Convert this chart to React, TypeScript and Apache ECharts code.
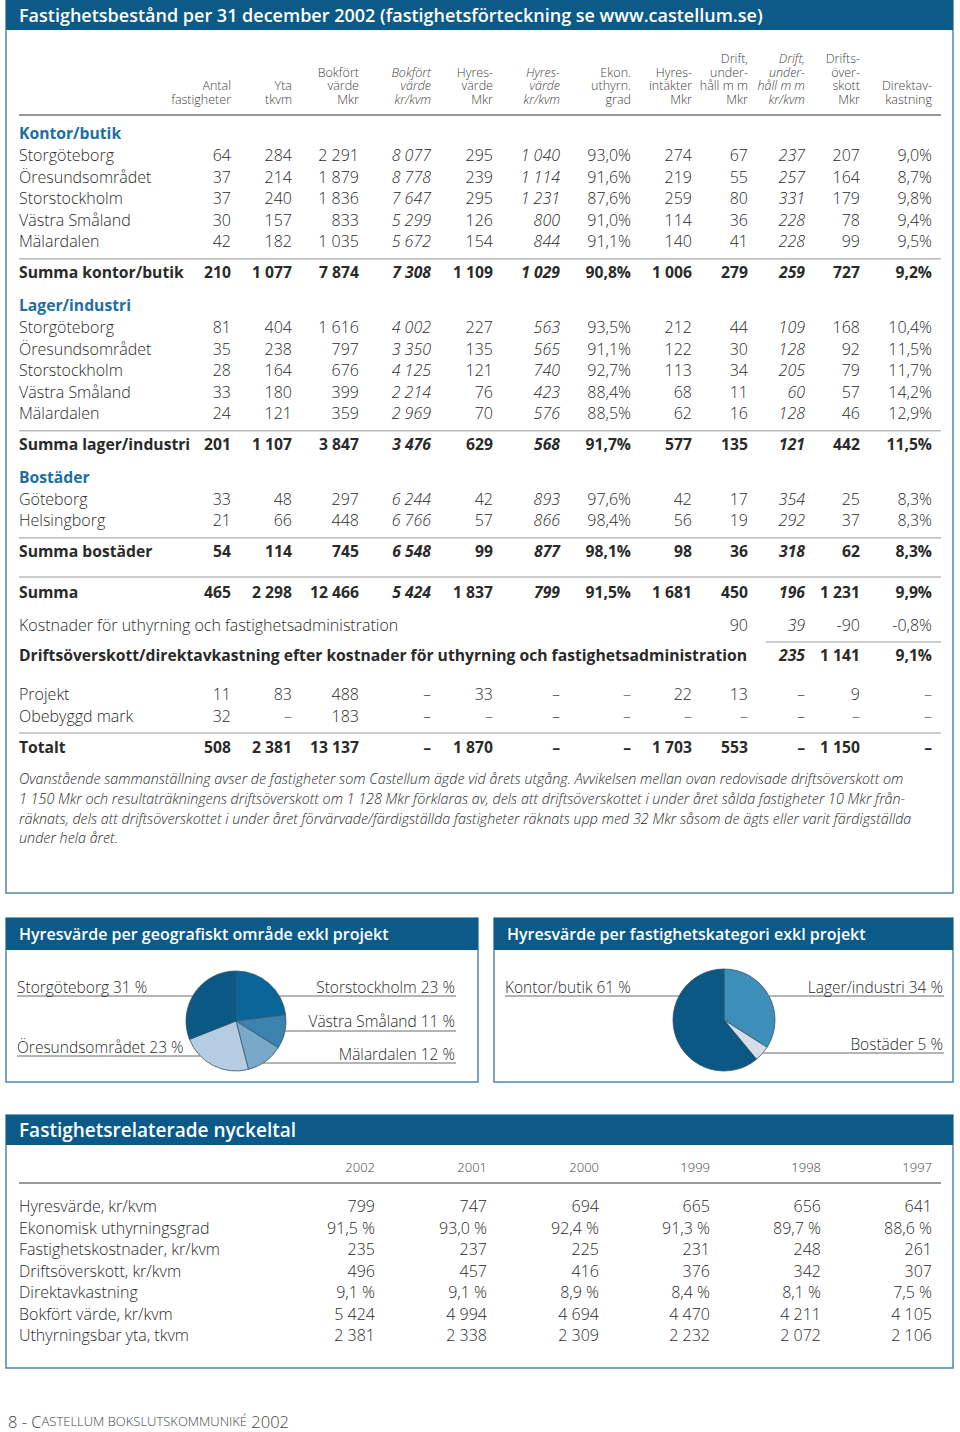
import React, { useEffect, useRef } from "react";
import * as echarts from "echarts";

const FONT = "'Open Sans', 'Noto Sans', sans-serif";
const TEXT = "#2a2a2a";
const HEAD_TEXT = "#444444";
const BAR = "#0b5a88";
const SECTION = "#1d6fa3";
const BORDER = "#4d86b0";
const RULE = "#9a9a9a";

// ---------------- Data ----------------
const pageTitle = "Fastighetsbestånd per 31 december 2002 (fastighetsförteckning se www.castellum.se)";

const columnHeaders = [
  ["Antal", "fastigheter"],
  ["Yta", "tkvm"],
  ["Bokfört", "värde", "Mkr"],
  ["Bokfört", "värde", "kr/kvm"],
  ["Hyres-", "värde", "Mkr"],
  ["Hyres-", "värde", "kr/kvm"],
  ["Ekon.", "uthyrn.", "grad"],
  ["Hyres-", "intäkter", "Mkr"],
  ["Drift,", "under-", "håll m m", "Mkr"],
  ["Drift,", "under-", "håll m m", "kr/kvm"],
  ["Drifts-", "över-", "skott", "Mkr"],
  ["Direktav-", "kastning"],
];
const italicColumns = [3, 5, 9];
const percentColumns = [6, 11];

const kontorNames = ["Storgöteborg", "Öresundsområdet", "Storstockholm", "Västra Småland", "Mälardalen"];
const kontorValues = [
  [64, 284, 2291, 8077, 295, 1040, 93.0, 274, 67, 237, 207, 9.0],
  [37, 214, 1879, 8778, 239, 1114, 91.6, 219, 55, 257, 164, 8.7],
  [37, 240, 1836, 7647, 295, 1231, 87.6, 259, 80, 331, 179, 9.8],
  [30, 157, 833, 5299, 126, 800, 91.0, 114, 36, 228, 78, 9.4],
  [42, 182, 1035, 5672, 154, 844, 91.1, 140, 41, 228, 99, 9.5],
];
const kontorTotal = [210, 1077, 7874, 7308, 1109, 1029, 90.8, 1006, 279, 259, 727, 9.2];

const lagerNames = ["Storgöteborg", "Öresundsområdet", "Storstockholm", "Västra Småland", "Mälardalen"];
const lagerValues = [
  [81, 404, 1616, 4002, 227, 563, 93.5, 212, 44, 109, 168, 10.4],
  [35, 238, 797, 3350, 135, 565, 91.1, 122, 30, 128, 92, 11.5],
  [28, 164, 676, 4125, 121, 740, 92.7, 113, 34, 205, 79, 11.7],
  [33, 180, 399, 2214, 76, 423, 88.4, 68, 11, 60, 57, 14.2],
  [24, 121, 359, 2969, 70, 576, 88.5, 62, 16, 128, 46, 12.9],
];
const lagerTotal = [201, 1107, 3847, 3476, 629, 568, 91.7, 577, 135, 121, 442, 11.5];

const bostadNames = ["Göteborg", "Helsingborg"];
const bostadValues = [
  [33, 48, 297, 6244, 42, 893, 97.6, 42, 17, 354, 25, 8.3],
  [21, 66, 448, 6766, 57, 866, 98.4, 56, 19, 292, 37, 8.3],
];
const bostadTotal = [54, 114, 745, 6548, 99, 877, 98.1, 98, 36, 318, 62, 8.3];

const summaValues = [465, 2298, 12466, 5424, 1837, 799, 91.5, 1681, 450, 196, 1231, 9.9];
const kostnadValues = [null, null, null, null, null, null, null, null, 90, 39, -90, -0.8];
const driftValues = [null, null, null, null, null, null, null, null, null, 235, 1141, 9.1];
const projektValues = [11, 83, 488, null, 33, null, null, 22, 13, null, 9, null];
const markValues = [32, null, 183, null, null, null, null, null, null, null, null, null];
const totaltValues = [508, 2381, 13137, null, 1870, null, null, 1703, 553, null, 1150, null];

const noteLines = [
  "Ovanstående sammanställning avser de fastigheter som Castellum ägde vid årets utgång. Avvikelsen mellan ovan redovisade driftsöverskott om",
  "1 150 Mkr och resultaträkningens driftsöverskott om 1 128 Mkr förklaras av, dels att driftsöverskottet i under året sålda fastigheter 10 Mkr från-",
  "räknats, dels att driftsöverskottet i under året förvärvade/färdigställda fastigheter räknats upp med 32 Mkr såsom de ägts eller varit färdigställda",
  "under hela året.",
];

const geoTitle = "Hyresvärde per geografiskt område exkl projekt";
const geoNames = ["Storstockholm", "Västra Småland", "Mälardalen", "Öresundsområdet", "Storgöteborg"];
const geoShares = [23, 11, 12, 23, 31];
const geoColors = ["#0a6699", "#3b83ae", "#7aa8c9", "#b6cde1", "#0b5884"];

const catTitle = "Hyresvärde per fastighetskategori exkl projekt";
const catNames = ["Lager/industri", "Bostäder", "Kontor/butik"];
const catShares = [34, 5, 61];
const catColors = ["#3d8fba", "#d8dce6", "#0b5884"];

const keyTitle = "Fastighetsrelaterade nyckeltal";
const keyYears = ["2002", "2001", "2000", "1999", "1998", "1997"];
const keyNames = [
  "Hyresvärde, kr/kvm",
  "Ekonomisk uthyrningsgrad",
  "Fastighetskostnader, kr/kvm",
  "Driftsöverskott, kr/kvm",
  "Direktavkastning",
  "Bokfört värde, kr/kvm",
  "Uthyrningsbar yta, tkvm",
];
const keyHyresvarde = [799, 747, 694, 665, 656, 641];
const keyUthyrningsgrad = [91.5, 93.0, 92.4, 91.3, 89.7, 88.6];
const keyKostnader = [235, 237, 225, 231, 248, 261];
const keyDriftsoverskott = [496, 457, 416, 376, 342, 307];
const keyDirektavkastning = [9.1, 9.1, 8.9, 8.4, 8.1, 7.5];
const keyBokfort = [5424, 4994, 4694, 4470, 4211, 4105];
const keyYta = [2381, 2338, 2309, 2232, 2072, 2106];
const keyPercentRows = [1, 4];

// ---------------- Layout ----------------
const mainCols = [231, 292, 359, 431, 493, 560, 631, 692, 748, 805, 860, 932];
const keyCols = [375, 487, 599, 710, 821, 932];

const fmtInt = (v: number) => {
  const s = String(Math.abs(v)).replace(/\B(?=(\d{3})+(?!\d))/g, " ");
  return (v < 0 ? "-" : "") + s;
};
const fmtPct = (v: number, sep = "") => (v < 0 ? "-" : "") + Math.abs(v).toFixed(1).replace(".", ",") + sep + "%";

function buildOption() {
  const g: any[] = [];
  const txt = (x: number, y: number, text: string, o: any = {}) =>
    g.push({
      type: "text",
      x,
      y,
      silent: true,
      scaleX: o.scaleX ?? 1,
      style: {
        text,
        fill: o.fill ?? TEXT,
        fontFamily: FONT,
        fontSize: o.size ?? 16,
        fontWeight: o.weight ?? 300,
        fontStyle: o.italic ? "italic" : "normal",
        lineHeight: o.lineHeight,
        align: o.align ?? "left",
        verticalAlign: o.valign ?? "middle",
      },
    });
  const hline = (x1: number, x2: number, y: number, color = RULE, w = 1) =>
    g.push({ type: "line", silent: true, shape: { x1, y1: y, x2, y2: y }, style: { stroke: color, lineWidth: w } });
  const box = (x: number, y: number, w: number, h: number, barH: number, title: string, size: number, scaleX = 1) => {
    g.push({ type: "rect", silent: true, shape: { x, y, width: w, height: h }, style: { fill: "#fff", stroke: BORDER, lineWidth: 1.5 } });
    g.push({ type: "rect", silent: true, shape: { x, y, width: w, height: barH }, style: { fill: BAR } });
    txt(x + 13, y + barH / 2 + (y < 0 ? 1 : 0), title, { fill: "#ffffff", size, weight: 600, scaleX });
  };

  // ---- main table box ----
  box(6, -2, 947, 895, 32, pageTitle, 18, 1.0);

  columnHeaders.forEach((lines, c) => {
    txt(mainCols[c], 106, lines.join("\n"), {
      align: "right",
      valign: "bottom",
      size: 12.5,
      lineHeight: 13.5,
      fill: HEAD_TEXT,
      italic: italicColumns.includes(c),
    });
  });
  hline(19, 941, 115, RULE, 2);

  const cell = (v: number | null, c: number) =>
    v == null ? "–" : percentColumns.includes(c) ? fmtPct(v) : fmtInt(v);
  const row = (y: number, label: string, vals: (number | null)[], bold = false, skipEmpty = false) => {
    const size = bold ? 15.7 : 16;
    txt(19, y, label, { weight: bold ? 700 : 300, size });
    vals.forEach((v, c) => {
      if (v === null && skipEmpty) return;
      txt(mainCols[c], y, cell(v, c), {
        align: "right",
        italic: italicColumns.includes(c),
        weight: bold ? 700 : 300,
        size,
        fill: v === null && !bold ? "#666" : TEXT,
      });
    });
  };

  const groups = [
    { title: "Kontor/butik", names: kontorNames, values: kontorValues, totalLabel: "Summa kontor/butik", total: kontorTotal },
    { title: "Lager/industri", names: lagerNames, values: lagerValues, totalLabel: "Summa lager/industri", total: lagerTotal },
    { title: "Bostäder", names: bostadNames, values: bostadValues, totalLabel: "Summa bostäder", total: bostadTotal },
  ];
  let y = 133;
  groups.forEach((gr) => {
    txt(19, y, gr.title, { fill: SECTION, weight: 700, size: 15.7 });
    let last = y;
    gr.names.forEach((n, i) => {
      last = y + 22 + i * 21.6;
      row(last, n, gr.values[i]);
    });
    hline(19, 941, last + 17.5);
    row(last + 30.5, gr.totalLabel, gr.total, true);
    y = last + 30.5 + 33;
  });
  hline(19, 941, 577);
  row(592, "Summa", summaValues, true);
  row(625, "Kostnader för uthyrning och fastighetsadministration", kostnadValues, false, true);
  hline(766, 941, 642);
  row(655, "Driftsöverskott/direktavkastning efter kostnader för uthyrning och fastighetsadministration", driftValues, true, true);
  row(694, "Projekt", projektValues);
  row(716, "Obebyggd mark", markValues);
  hline(19, 941, 733);
  row(747, "Totalt", totaltValues, true);

  noteLines.forEach((l, i) => txt(19, 779 + i * 19.6, l, { italic: true, size: 14, scaleX: 1.025, lineHeight: 17 }));

  // ---- pie boxes ----
  box(6, 918, 472, 164, 32, geoTitle, 16);
  box(494, 918, 459, 164, 32, catTitle, 16);

  // ---- key figures ----
  box(6, 1115, 947, 253, 30, keyTitle, 19);
  keyYears.forEach((yr, i) => txt(keyCols[i], 1167, yr, { align: "right", size: 13, fill: HEAD_TEXT }));
  hline(19, 941, 1183, RULE, 2);
  const keyRows = [keyHyresvarde, keyUthyrningsgrad, keyKostnader, keyDriftsoverskott, keyDirektavkastning, keyBokfort, keyYta];
  keyRows.forEach((vals, r) => {
    const yy = 1206 + r * 21.5;
    txt(19, yy, keyNames[r]);
    vals.forEach((v, i) =>
      txt(keyCols[i], yy, keyPercentRows.includes(r) ? fmtPct(v, " ") : fmtInt(v), { align: "right" })
    );
  });

  // ---- footer ----
  g.push({
    type: "text",
    x: 8,
    y: 1421,
    silent: true,
    style: {
      text: "{a|8 - C}{b|ASTELLUM BOKSLUTSKOMMUNIKÉ}{a| 2002}",
      verticalAlign: "middle",
      rich: {
        a: { fontFamily: FONT, fontSize: 16.5, fontWeight: 300, fill: "#444", color: "#444", lineHeight: 14 },
        b: { fontFamily: FONT, fontSize: 13, fontWeight: 300, fill: "#444", color: "#444", lineHeight: 14 },
      },
    },
  });

  // ---- pies ----
  const pieLabel = (cx: number, cy: number, r: number, pos: any[]) => (p: any) => {
    const [side, tx, ty, ly] = pos[p.dataIndex];
    const dy = ly - cy;
    const half = Math.sqrt(Math.max(r * r - dy * dy, 0));
    const edgeX = side === "left" ? cx - half : cx + half;
    return {
      x: tx,
      y: ty,
      align: side,
      verticalAlign: "middle",
      labelLinePoints: [
        [edgeX, ly],
        [(edgeX + tx) / 2, ly],
        [side === "left" ? tx : tx + 1, ly],
      ],
    };
  };
  const geoPos = [
    ["right", 455, 987, 996],
    ["right", 455, 1021, 1031],
    ["right", 455, 1054, 1063],
    ["left", 17, 1047, 1056],
    ["left", 17, 987, 996],
  ];
  const catPos = [
    ["right", 943, 987, 996],
    ["right", 943, 1044, 1053],
    ["left", 505, 987, 996],
  ];
  const pieSeries = (center: number[], r: number, names: string[], shares: number[], colors: string[], pos: any[]) => ({
    type: "pie",
    center,
    radius: r,
    startAngle: 90,
    clockwise: true,
    silent: true,
    data: names.map((n, i) => ({ name: n, value: shares[i], itemStyle: { color: colors[i] } })),
    itemStyle: { borderColor: "#34556b", borderWidth: 0.8 },
    label: {
      show: true,
      position: "outside",
      alignTo: "none",
      overflow: "none",
      formatter: (p: any) => `${p.name} ${p.value} %`,
      fontFamily: FONT,
      fontSize: 15.5,
      fontWeight: 300,
      color: TEXT,
    },
    labelLine: { show: true, lineStyle: { color: "#6a6a6a", width: 1 } },
    labelLayout: pieLabel(center[0], center[1], r, pos),
  });

  return {
    animation: false,
    backgroundColor: "#ffffff",
    graphic: { elements: g },
    series: [
      pieSeries([236, 1021], 50, geoNames, geoShares, geoColors, geoPos),
      pieSeries([724, 1020], 51, catNames, catShares, catColors, catPos),
    ],
  };
}

export default function App() {
  const ref = useRef<HTMLDivElement>(null);
  useEffect(() => {
    const chart = echarts.init(ref.current!, null, { renderer: "svg", width: 960, height: 1432 });
    chart.setOption(buildOption() as any);
    return () => chart.dispose();
  }, []);
  return (
    <div
      ref={ref}
      style={{ position: "absolute", left: 0, top: 0, width: 960, height: 1432, background: "#fff" }}
    />
  );
}
